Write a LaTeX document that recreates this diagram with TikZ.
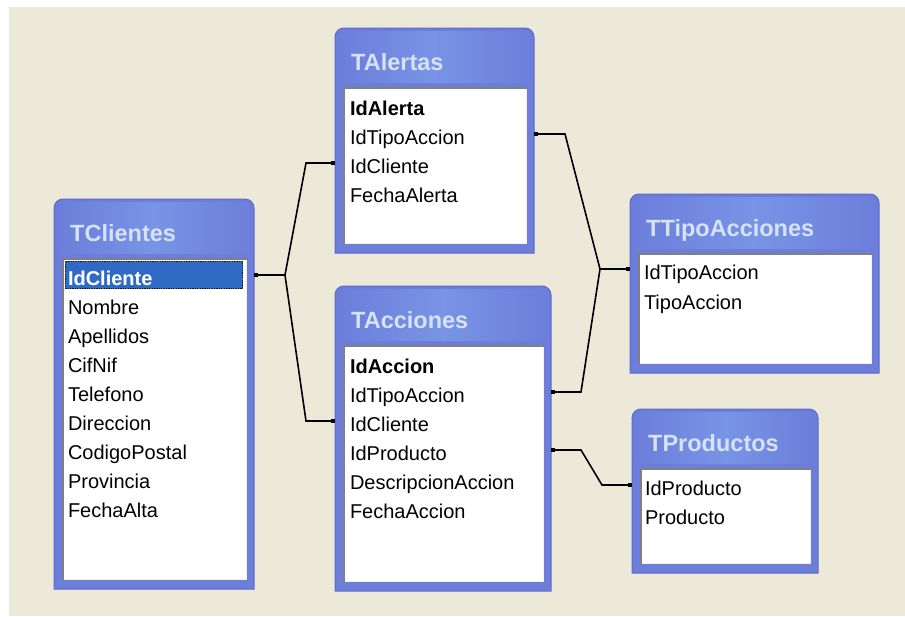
\documentclass[tikz,border=0pt]{standalone}
\usepackage{fontspec}
\setmainfont{Liberation Sans}
\usetikzlibrary{fit}
\definecolor{bg}{RGB}{236,233,216}
\definecolor{frameblue}{RGB}{108,126,218}
\definecolor{frameedge}{RGB}{92,106,206}
\definecolor{titlemid}{RGB}{120,148,230}
\definecolor{titletext}{RGB}{214,226,248}
\definecolor{selblue}{RGB}{49,106,197}
\definecolor{inset}{RGB}{128,128,128}
\definecolor{insetlight}{RGB}{244,242,234}
\tikzset{
  field/.style={anchor=west, inner sep=0pt, outer sep=0pt, text height=24pt, text depth=4pt, font=\fontsize{20}{24}\selectfont},
  keyfield/.style={field, font=\fontsize{20}{24}\selectfont\bfseries},
  titletxt/.style={anchor=base west, inner sep=0pt, font=\fontsize{23.5}{28}\selectfont\bfseries, text=titletext},
  rel/.style={line width=1.6pt, black, line join=miter},
  port/.style={rectangle, fill=black, minimum size=4.5pt, inner sep=0pt, draw=none}
}
% #1 name, #2 x1, #3 y1, #4 x2, #5 y2, #6 title
\newcommand\dbwin[6]{%
  \fill[frameblue, draw=frameedge, line width=1pt] (#2,#5) [rounded corners=9pt] -- (#2,#3) -- (#4,#3) [sharp corners] -- (#4,#5) -- cycle;
  \shade[left color=frameblue, right color=frameblue, middle color=titlemid, rounded corners=6pt] (#2+3,#3+3) rectangle (#4-3,#3+55);
  \fill[white] (#2+8,#3+59) rectangle (#4-7,#5-9);
  \draw[insetlight, line width=1.5pt] (#2+9,#5-9.75) -- (#4-7.75,#5-9.75) -- (#4-7.75,#3+60);
  \draw[inset, line width=1.5pt] (#2+8.75,#5-9) -- (#2+8.75,#3+59.75) -- (#4-7,#3+59.75);
  \node[fit={(#2,#3) (#4,#5)}, inner sep=0pt] (#1) {};
  \node[titletxt] (#1-title) at (#2+16,#3+42.5) {#6};
}
\begin{document}
\begin{tikzpicture}[x=1pt, y=-1pt]
\useasboundingbox (0,0) rectangle (905,616);
\fill[white] (0,0) rectangle (905,616);
\fill[bg] (9,7) rectangle (905,616);

% tables
\dbwin{TClientes}{54}{199}{254}{589}{TClientes}
\dbwin{TAlertas}{335}{28}{534}{253}{TAlertas}
\dbwin{TAcciones}{335}{286}{551}{591}{TAcciones}
\dbwin{TTipoAcciones}{630}{194}{879}{373}{TTipoAcciones}
\dbwin{TProductos}{632}{409}{818}{573}{TProductos}

% TClientes fields
\fill[selblue] (65,261) rectangle (243,289);
\draw[black!85!orange, line width=1.2pt, dash pattern=on 1.2pt off 1.2pt] (65.6,261.6) rectangle (242.4,288.4);
\node[keyfield, text=white] (cl1) at (68,275) {IdCliente};
\node[field] (cl2) at (68,304) {Nombre};
\node[field] (cl3) at (68,333) {Apellidos};
\node[field] (cl4) at (68,362) {CifNif};
\node[field] (cl5) at (68,391) {Telefono};
\node[field] (cl6) at (68,420) {Direccion};
\node[field] (cl7) at (68,449) {CodigoPostal};
\node[field] (cl8) at (68,478) {Provincia};
\node[field] (cl9) at (68,507) {FechaAlta};

% TAlertas fields
\node[keyfield] (al1) at (350,105) {IdAlerta};
\node[field] (al2) at (350,134) {IdTipoAccion};
\node[field] (al3) at (350,163) {IdCliente};
\node[field] (al4) at (350,192) {FechaAlerta};

% TAcciones fields
\node[keyfield] (ac1) at (350,363) {IdAccion};
\node[field] (ac2) at (350,392) {IdTipoAccion};
\node[field] (ac3) at (350,421) {IdCliente};
\node[field] (ac4) at (350,450) {IdProducto};
\node[field] (ac5) at (350,479) {DescripcionAccion};
\node[field] (ac6) at (350,508) {FechaAccion};

% TTipoAcciones fields
\node[field] (tt1) at (644,269) {IdTipoAccion};
\node[field] (tt2) at (644,299) {TipoAccion};

% TProductos fields
\node[field] (pr1) at (645,485) {IdProducto};
\node[field] (pr2) at (645,514) {Producto};

% ports
\path (TClientes.east |- cl1) ++(2,0) node[port] (p1) {};
\path (TAlertas.west |- al3) ++(-2,0) node[port] (p2) {};
\path (TAcciones.west |- ac3) ++(-2,0) node[port] (p3) {};
\path (TAlertas.east |- al2) ++(2,0) node[port] (p4) {};
\path (TAcciones.east |- ac2) ++(2,0) node[port] (p5) {};
\path (TTipoAcciones.west |- tt1) ++(-2,0) node[port] (p6) {};
\path (TAcciones.east |- ac4) ++(2,0) node[port] (p7) {};
\path (TProductos.west |- pr1) ++(-2,0) node[port] (p8) {};

% bend points
\coordinate (j1) at (285,275);
\coordinate (b1) at (306,163);
\coordinate (b2) at (306,421);
\coordinate (j2) at (600,269);
\coordinate (b3) at (565,134);
\coordinate (b4) at (581,392);
\coordinate (b5) at (581,450);
\coordinate (b6) at (602,485);

% relationships
\draw[rel] (p1.center) -- (j1) -- (b1) -- (p2.center);
\draw[rel] (j1) -- (b2) -- (p3.center);
\draw[rel] (p4.center) -- (b3) -- (j2) -- (p6.center);
\draw[rel] (p5.center) -- (b4) -- (j2);
\draw[rel] (p7.center) -- (b5) -- (b6) -- (p8.center);
\end{tikzpicture}
\end{document}
